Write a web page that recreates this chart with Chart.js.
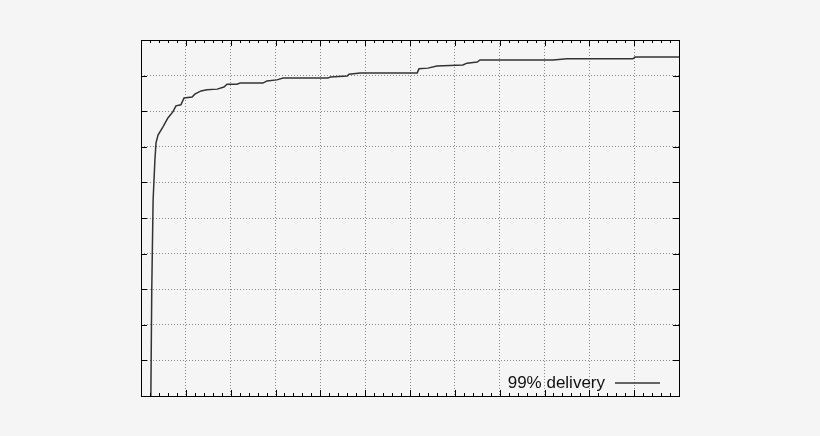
<!DOCTYPE html>
<html>
<head>
<meta charset="utf-8">
<script src="https://cdn.jsdelivr.net/npm/chart.js@4/dist/chart.umd.min.js"></script>
<style>
html, body { margin: 0; padding: 0; background: #f5f5f5; }
#wrap { width: 820px; height: 436px; }
</style>
</head>
<body>
<div id="wrap"><canvas id="cdf"></canvas></div>
<script>
// 99% delivery curve (x: 0..12, y: 0..100)
var deliveryX = [0.22, 0.24, 0.27, 0.31, 0.335, 0.38, 0.49, 0.60, 0.71, 0.78, 0.89, 0.96, 1.14, 1.20, 1.34, 1.47, 1.70, 1.85, 1.92, 2.14, 2.21, 2.72, 2.81, 3.03, 3.17, 4.17, 4.22, 4.60, 4.64, 4.89, 6.16, 6.20, 6.40, 6.60, 7.18, 7.27, 7.50, 7.56, 9.19, 9.50, 10.97, 11.02, 12.0];
var deliveryY = [0, 30, 55, 66.3, 71.1, 73.3, 75.6, 78.1, 79.8, 81.5, 81.8, 83.7, 84.0, 84.8, 85.7, 86.0, 86.2, 86.8, 87.6, 87.6, 87.9, 87.9, 88.5, 88.8, 89.3, 89.3, 89.6, 89.9, 90.4, 90.7, 90.7, 91.9, 92.1, 92.7, 93.0, 93.5, 93.8, 94.4, 94.4, 94.7, 94.7, 95.2, 95.2];
var seriesLabel = '99% delivery';
var xMax = 12, yMax = 100, yStep = 10;

var points = [];
for (i = 0; i < deliveryX.length; i++) {
    points.push({ x: deliveryX[i], y: deliveryY[i] });
}

// frame, inward ticks and the legend inside the plot
var framePlugin = {
    id: 'frame',
    afterDraw: function (chart) {
        var ctx = chart.ctx;
        var a = chart.chartArea;
        var xs = chart.scales.x, ys = chart.scales.y;
        ctx.save();
        ctx.strokeStyle = '#000';
        ctx.lineWidth = 1;
        ctx.beginPath();
        for (var v = 0; v <= xMax + 0.001; v += 0.2) {
            var px = Math.round(xs.getPixelForValue(v)) + 0.5;
            var major = Math.abs(v - Math.round(v)) < 0.01;
            var len = major ? 6 : 3;
            ctx.moveTo(px, a.bottom); ctx.lineTo(px, a.bottom - len);
            ctx.moveTo(px, a.top); ctx.lineTo(px, a.top + len);
        }
        for (var w = 0; w <= yMax; w += yStep) {
            var py = Math.round(ys.getPixelForValue(w)) + 0.5;
            ctx.moveTo(a.left, py); ctx.lineTo(a.left + 6, py);
            ctx.moveTo(a.right, py); ctx.lineTo(a.right - 6, py);
        }
        ctx.stroke();
        ctx.strokeRect(Math.round(a.left) + 0.5, Math.round(a.top) + 0.5, Math.round(a.right - a.left), Math.round(a.bottom - a.top));

        // legend
        var ly = a.bottom - 13;
        ctx.font = '17px "Liberation Sans", Arial, sans-serif';
        ctx.fillStyle = '#111';
        ctx.textAlign = 'right';
        ctx.textBaseline = 'middle';
        ctx.fillText(seriesLabel, a.right - 74, ly);
        ctx.strokeStyle = '#333';
        ctx.lineWidth = 1.5;
        ctx.beginPath();
        ctx.moveTo(a.right - 64, ly); ctx.lineTo(a.right - 19, ly);
        ctx.stroke();
        ctx.restore();
    }
};

new Chart(document.getElementById('cdf').getContext('2d'), {
    type: 'line',
    data: {
        datasets: [{
            label: seriesLabel,
            data: points,
            borderColor: '#333',
            borderWidth: 1.5,
            pointRadius: 0,
            tension: 0,
            fill: false
        }]
    },
    options: {
        responsive: true,
        maintainAspectRatio: false,
        animation: false,
        layout: { padding: { left: 141, right: 141, top: 40, bottom: 40 } },
        plugins: { legend: { display: false }, tooltip: { enabled: false } },
        scales: {
            x: {
                type: 'linear', min: 0, max: xMax,
                ticks: { display: false, stepSize: 1 },
                border: { display: false, dash: [1, 2] },
                grid: { color: '#8a8a8a', lineWidth: 1, drawTicks: false, tickLength: 0 }
            },
            y: {
                type: 'linear', min: 0, max: yMax,
                ticks: { display: false, stepSize: yStep },
                border: { display: false, dash: [1, 2] },
                grid: { color: '#8a8a8a', lineWidth: 1, drawTicks: false, tickLength: 0 }
            }
        }
    },
    plugins: [framePlugin]
});
</script>
</body>
</html>
